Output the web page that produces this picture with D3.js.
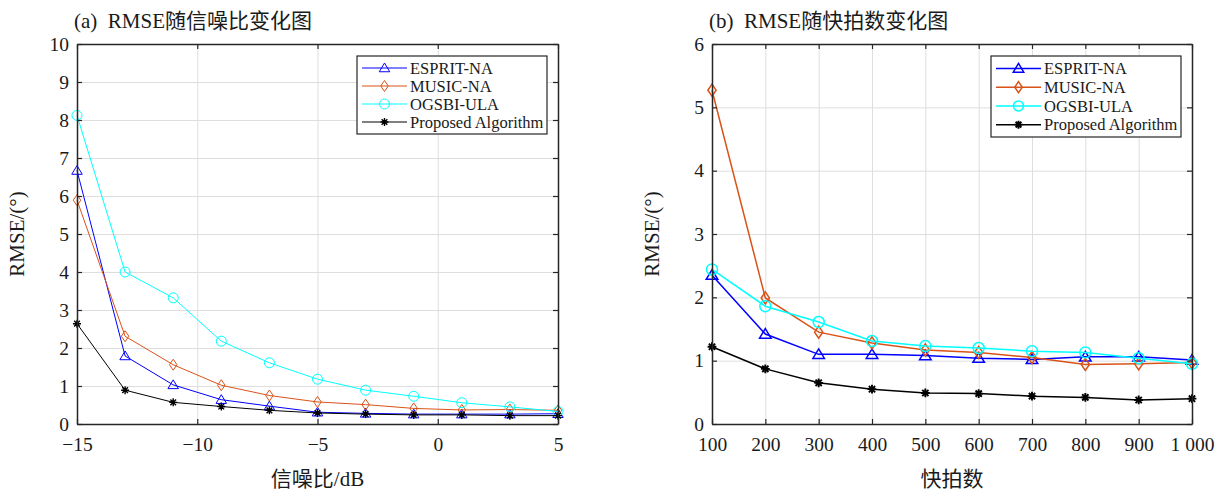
<!DOCTYPE html>
<html lang="zh">
<head>
<meta charset="UTF-8">
<title>RMSE变化图</title>
<style>
*{margin:0;padding:0;}
body{background:#fff;}
text{font-family:"Liberation Serif","Times New Roman","Noto Sans CJK SC",serif;fill:#1a1a1a;white-space:pre;}
</style>
</head>
<body>
<div id="container"></div>
<script src="https://cdn.jsdelivr.net/npm/d3@7/dist/d3.min.js"></script>
<script>
var width = 1225, height = 492

var seriesNames = ['ESPRIT-NA', 'MUSIC-NA', 'OGSBI-ULA', 'Proposed Algorithm']
var seriesColors = ['#0000ff', '#d95319', '#00ffff', '#000000']
var seriesMarkers = ['triangle', 'diamond', 'circle', 'star']

// (a) RMSE vs SNR
var snr = [-15, -13, -11, -9, -7, -5, -3, -1, 1, 3, 5]
var snrEsprit = [6.67, 1.79, 1.03, 0.64, 0.47, 0.31, 0.28, 0.26, 0.26, 0.26, 0.27]
var snrMusic = [5.89, 2.31, 1.56, 1.02, 0.75, 0.58, 0.51, 0.41, 0.37, 0.38, 0.36]
var snrOgsbi = [8.12, 4.00, 3.32, 2.18, 1.61, 1.18, 0.89, 0.73, 0.56, 0.45, 0.33]
var snrProposed = [2.64, 0.89, 0.57, 0.46, 0.36, 0.29, 0.26, 0.24, 0.24, 0.22, 0.22]
var snrXTicks = [-15, -10, -5, 0, 5]
var snrYTicks = [0, 1, 2, 3, 4, 5, 6, 7, 8, 9, 10]

// (b) RMSE vs snapshots
var snaps = [100, 200, 300, 400, 500, 600, 700, 800, 900, 1000]
var snapEsprit = [2.35, 1.42, 1.10, 1.10, 1.08, 1.04, 1.02, 1.06, 1.06, 1.01]
var snapMusic = [5.27, 1.99, 1.45, 1.28, 1.17, 1.13, 1.05, 0.94, 0.95, 0.97]
var snapOgsbi = [2.44, 1.86, 1.61, 1.31, 1.23, 1.20, 1.15, 1.13, 1.04, 0.95]
var snapProposed = [1.22, 0.87, 0.65, 0.55, 0.49, 0.48, 0.44, 0.42, 0.38, 0.40]
var snapXTicks = [100, 200, 300, 400, 500, 600, 700, 800, 900, 1000]
var snapYTicks = [0, 1, 2, 3, 4, 5, 6]

var svg = d3.select('#container').append('svg')
	.attr('width', width).attr('height', height)

var fmtGroup = d3.formatLocale({decimal: '.', thousands: ' ', grouping: [3], currency: ['', '']}).format(',')

function drawMarker(g, type, x, y, color, r, sw) {
	if (type == 'triangle') {
		g.append('path')
			.attr('d', `M${x},${y - r} L${x + r * 1.05},${y + r * 0.75} L${x - r * 1.05},${y + r * 0.75} Z`)
			.attr('fill', 'none').attr('stroke', color).attr('stroke-width', sw)
	} else if (type == 'diamond') {
		g.append('path')
			.attr('d', `M${x},${y - r * 1.1} L${x + r * 0.75},${y} L${x},${y + r * 1.1} L${x - r * 0.75},${y} Z`)
			.attr('fill', 'none').attr('stroke', color).attr('stroke-width', sw)
	} else if (type == 'circle') {
		g.append('circle').attr('cx', x).attr('cy', y).attr('r', r)
			.attr('fill', 'none').attr('stroke', color).attr('stroke-width', sw)
	} else {
		var a = r * 0.8, b = r * 0.57
		g.append('path')
			.attr('d', `M${x},${y - a} L${x},${y + a} M${x - b},${y - b} L${x + b},${y + b} M${x - b},${y + b} L${x + b},${y - b} M${x - a},${y} L${x + a},${y}`)
			.attr('fill', 'none').attr('stroke', color).attr('stroke-width', sw + 0.4)
	}
}

function drawPanel(p) {
	var x = d3.scaleLinear().domain(p.xDomain).range([p.x0, p.x1])
	var y = d3.scaleLinear().domain(p.yDomain).range([p.y1, p.y0])
	var g = svg.append('g')
	var ph = p.y1 - p.y0, pw = p.x1 - p.x0

	// grid
	g.append('g').attr('transform', `translate(0,${p.y1})`)
		.call(d3.axisBottom(x).tickValues(p.xTicks).tickSize(-ph).tickFormat(''))
		.call(s => s.select('.domain').remove())
		.selectAll('line').attr('stroke', '#dedede').attr('stroke-width', 1)
	g.append('g').attr('transform', `translate(${p.x0},0)`)
		.call(d3.axisLeft(y).tickValues(p.yTicks).tickSize(-pw).tickFormat(''))
		.call(s => s.select('.domain').remove())
		.selectAll('line').attr('stroke', '#dedede').attr('stroke-width', 1)

	// series
	p.series.forEach(function (vals, k) {
		var pts = vals.map(function (v, i) { return [x(p.xs[i]), y(v)] })
		g.append('path').datum(pts)
			.attr('d', d3.line())
			.attr('fill', 'none').attr('stroke', seriesColors[k]).attr('stroke-width', p.lw)
		var mg = g.append('g')
		pts.forEach(function (pt) { drawMarker(mg, seriesMarkers[k], pt[0], pt[1], seriesColors[k], p.mr, p.lw) })
	})

	// axes, ticks inward on all sides
	var bottom = g.append('g').attr('transform', `translate(0,${p.y1})`)
		.call(d3.axisBottom(x).tickValues(p.xTicks).tickSize(-5).tickSizeOuter(0).tickPadding(13).tickFormat(p.xFormat))
	var left = g.append('g').attr('transform', `translate(${p.x0},0)`)
		.call(d3.axisLeft(y).tickValues(p.yTicks).tickSize(-5).tickSizeOuter(0).tickPadding(8).tickFormat(d3.format('d')))
	var top = g.append('g').attr('transform', `translate(0,${p.y0})`)
		.call(d3.axisTop(x).tickValues(p.xTicks).tickSize(-5).tickSizeOuter(0).tickFormat(''))
	var right = g.append('g').attr('transform', `translate(${p.x1},0)`)
		.call(d3.axisRight(y).tickValues(p.yTicks).tickSize(-5).tickSizeOuter(0).tickFormat(''))
	;[bottom, left, top, right].forEach(function (a) {
		a.select('.domain').attr('stroke', '#262626').attr('stroke-width', 1.5)
		a.selectAll('line').attr('stroke', '#262626').attr('stroke-width', 1.2)
		a.selectAll('text').attr('font-size', 19.5).attr('fill', '#1a1a1a')
			.attr('font-family', '"Liberation Serif","Times New Roman",serif')
	})

	// title and axis labels
	g.append('text').attr('x', p.x0 - 3).attr('y', 28)
		.attr('font-size', 21).text(p.title)
	g.append('text').attr('x', (p.x0 + p.x1) / 2).attr('y', 486)
		.attr('text-anchor', 'middle').attr('font-size', 21).text(p.xLabel)
	g.append('text').attr('transform', `translate(${p.x0 - 53},${(p.y0 + p.y1) / 2}) rotate(-90)`)
		.attr('text-anchor', 'middle').attr('font-size', 21).text('RMSE/(°)')

	// legend
	var lg = g.append('g').attr('transform', `translate(${p.x1 - 201},56)`)
	lg.append('rect').attr('x', 0).attr('y', 0).attr('width', 190).attr('height', p.legendH)
		.attr('fill', '#fff').attr('stroke', '#262626').attr('stroke-width', 1.2)
	var rowH = (p.legendH - 6) / 4
	seriesNames.forEach(function (name, k) {
		var ry = 3 + rowH * (k + 0.5)
		lg.append('line').attr('x1', 5).attr('x2', 50).attr('y1', ry).attr('y2', ry)
			.attr('stroke', seriesColors[k]).attr('stroke-width', p.lw)
		drawMarker(lg, seriesMarkers[k], 27.5, ry, seriesColors[k], 5, p.lw)
		lg.append('text').attr('x', 53).attr('y', ry).attr('dy', '0.35em')
			.attr('font-size', 16.5).text(name)
	})
}

drawPanel({
	x0: 77, x1: 558, y0: 44, y1: 424,
	xDomain: [-15, 5], yDomain: [0, 10],
	xTicks: snrXTicks, yTicks: snrYTicks,
	xFormat: d3.format('d'),
	xs: snr,
	series: [snrEsprit, snrMusic, snrOgsbi, snrProposed],
	lw: 1, mr: 5,
	legendH: 78,
	title: '(a)  RMSE随信噪比变化图',
	xLabel: '信噪比/dB'
})

drawPanel({
	x0: 712, x1: 1192, y0: 44, y1: 424,
	xDomain: [100, 1000], yDomain: [0, 6],
	xTicks: snapXTicks, yTicks: snapYTicks,
	xFormat: fmtGroup,
	xs: snaps,
	series: [snapEsprit, snapMusic, snapOgsbi, snapProposed],
	lw: 1.5, mr: 5.5,
	legendH: 81,
	title: '(b)  RMSE随快拍数变化图',
	xLabel: '快拍数'
})
</script>
</body>
</html>
